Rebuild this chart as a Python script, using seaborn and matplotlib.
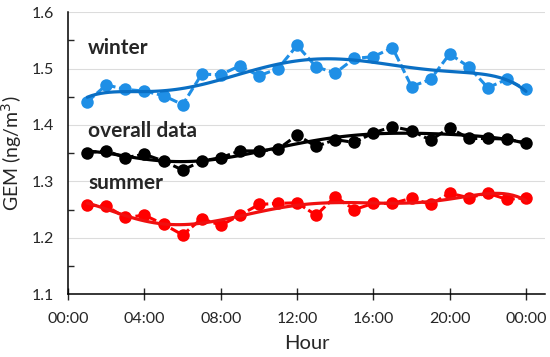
import numpy as np
import pandas as pd
import seaborn as sns
import matplotlib.pyplot as plt
from matplotlib.ticker import MultipleLocator

hours = list(range(1, 25))
winter = [1.441, 1.471, 1.463, 1.460, 1.452, 1.436, 1.490, 1.489, 1.505, 1.487,
          1.500, 1.541, 1.503, 1.492, 1.518, 1.521, 1.537, 1.468, 1.481, 1.526,
          1.503, 1.466, 1.481, 1.463]
overall = [1.351, 1.354, 1.342, 1.348, 1.336, 1.320, 1.336, 1.342, 1.354, 1.354,
           1.357, 1.382, 1.362, 1.374, 1.369, 1.386, 1.397, 1.390, 1.373, 1.395,
           1.376, 1.376, 1.375, 1.368]
summer = [1.258, 1.256, 1.236, 1.240, 1.224, 1.205, 1.234, 1.222, 1.240, 1.259,
          1.261, 1.262, 1.240, 1.273, 1.250, 1.261, 1.261, 1.270, 1.259, 1.279,
          1.271, 1.279, 1.268, 1.271]
tick_hours = [0, 4, 8, 12, 16, 20, 24]
tick_labels = ["00:00", "04:00", "08:00", "12:00", "16:00", "20:00", "00:00"]

series = [
    ("winter", winter, "#1f8fe6", "#0a6fc4"),
    ("overall data", overall, "#000000", "#000000"),
    ("summer", summer, "#ff0000", "#f01010"),
]
label_y = {"winter": 1.536, "overall data": 1.389, "summer": 1.297}

sns.set_style("white")
plt.rcParams["font.family"] = ["Lato", "DejaVu Sans"]

fig = plt.figure(figsize=(5.5, 3.57), dpi=100)
ax = fig.add_axes([0.124, 0.176, 0.867, 0.79])

for name, vals, col, tcol in series:
    df = pd.DataFrame({"hour": hours, "gem": vals})
    sns.lineplot(data=df, x="hour", y="gem", ax=ax, color=col, dashes=(3, 1.2),
                 linewidth=2.2, marker="o", markersize=9, markeredgewidth=0,
                 zorder=3)
    ax.lines[-1].set_dashes((3, 1.2))
    sns.regplot(data=df, x="hour", y="gem", ax=ax, order=6, scatter=False,
                ci=None, line_kws={"color": tcol, "linewidth": 2.3, "zorder": 4})
    ax.text(1.05, label_y[name], name, fontsize=15, fontweight="bold",
            va="center", ha="left")

ax.set_xlim(0, 25)
ax.set_ylim(1.1, 1.6)
ax.set_xticks(tick_hours, labels=tick_labels)
ax.yaxis.set_major_locator(MultipleLocator(0.1))
ax.yaxis.set_minor_locator(MultipleLocator(0.05))
ax.yaxis.set_major_formatter(plt.FuncFormatter(lambda v, p: f"{v:.1f}"))
ax.grid(axis="y", color="#dcdcdc", linewidth=0.8)
ax.set_axisbelow(True)
ax.tick_params(axis="y", which="major", direction="out", length=5, width=1,
               labelsize=11.5, pad=5)
ax.tick_params(axis="y", which="minor", direction="in", length=4, width=1, left=True)
ax.tick_params(axis="x", which="major", direction="inout", length=8, width=1,
               labelsize=11.5, bottom=True, pad=9)
for s in ["top", "right"]:
    ax.spines[s].set_visible(False)
for s in ["left", "bottom"]:
    ax.spines[s].set_color("black")
    ax.spines[s].set_linewidth(1.1)
ax.set_xlabel("Hour", fontsize=14.5, labelpad=6)
ax.set_ylabel("GEM (ng/m$^3$)", fontsize=14, labelpad=6)

fig.savefig("out.png", dpi=100)
